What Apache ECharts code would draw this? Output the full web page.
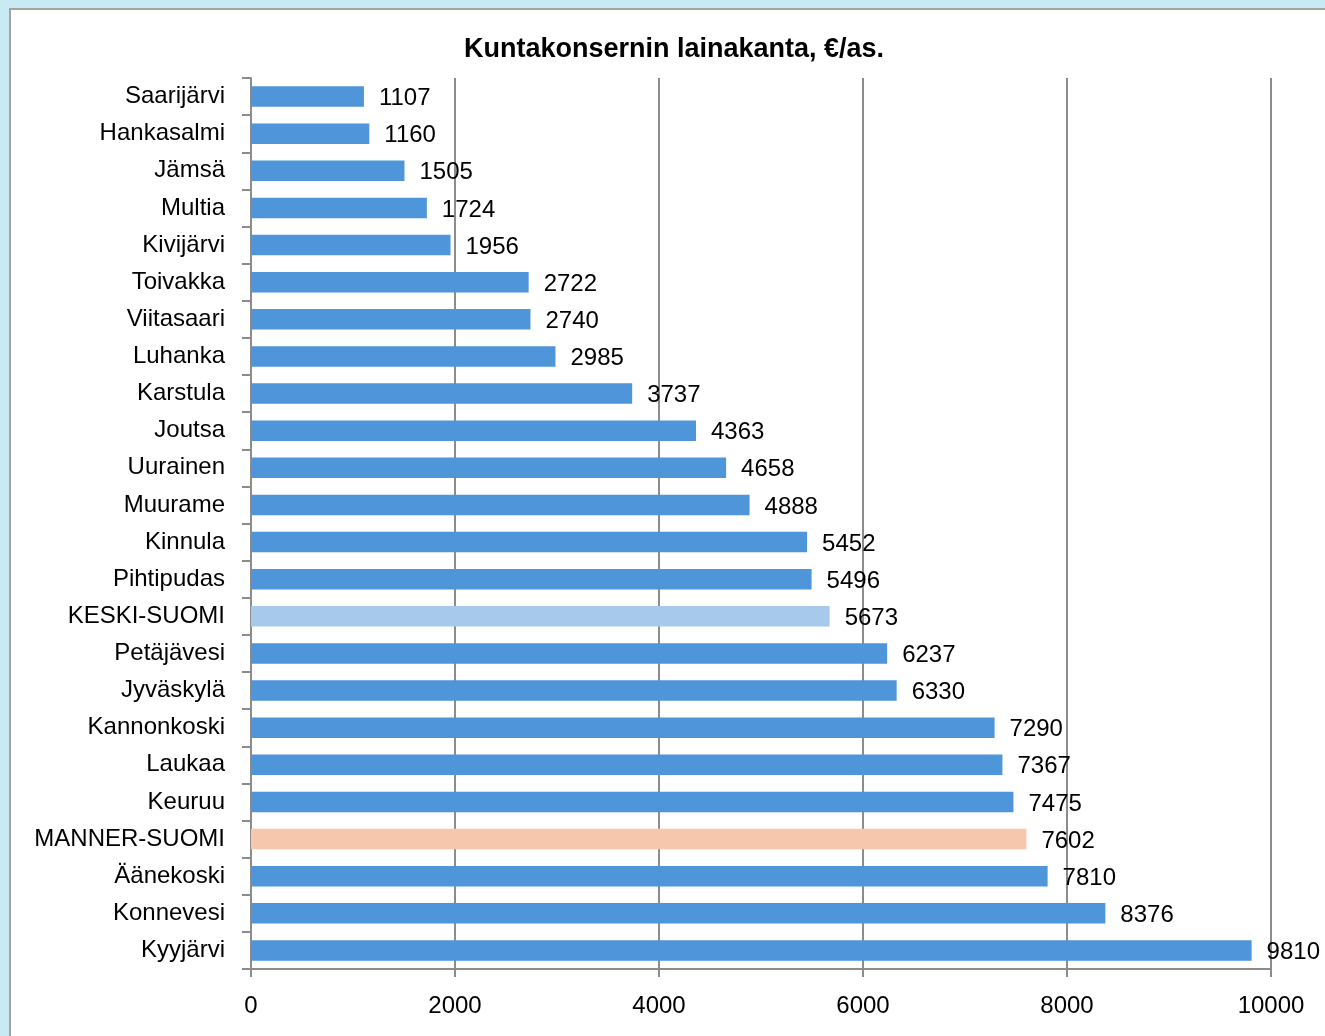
<!DOCTYPE html>
<html>
<head>
<meta charset="utf-8">
<script src="https://cdn.jsdelivr.net/npm/echarts@6/dist/echarts.min.js"></script>
<style>
  html, body { margin: 0; padding: 0; background: #c9e9f3; }
  #chart { width: 1325px; height: 1036px; }
</style>
</head>
<body>
<div id="chart"></div>
<script>
// Municipal group loan stock per inhabitant (€/as.)
const categories = [
  'Saarijärvi', 'Hankasalmi', 'Jämsä', 'Multia', 'Kivijärvi', 'Toivakka',
  'Viitasaari', 'Luhanka', 'Karstula', 'Joutsa', 'Uurainen', 'Muurame',
  'Kinnula', 'Pihtipudas', 'KESKI-SUOMI', 'Petäjävesi', 'Jyväskylä',
  'Kannonkoski', 'Laukaa', 'Keuruu', 'MANNER-SUOMI', 'Äänekoski',
  'Konnevesi', 'Kyyjärvi'
];
const values = [
  1107, 1160, 1505, 1724, 1956, 2722, 2740, 2985, 3737, 4363, 4658, 4888,
  5452, 5496, 5673, 6237, 6330, 7290, 7367, 7475, 7602, 7810, 8376, 9810
];
const xTicks = [0, 2000, 4000, 6000, 8000, 10000];

const baseColor = '#4f95d9';
const highlight = { 'KESKI-SUOMI': '#a7caec', 'MANNER-SUOMI': '#f6c7ad' };

const font = 'Liberation Sans, Arial, sans-serif';
const chart = echarts.init(document.getElementById('chart'));

chart.setOption({
  animation: false,
  graphic: [{
    type: 'rect',
    z: -10,
    shape: { x: 10, y: 9, width: 1400, height: 1100 },
    style: { fill: '#ffffff', stroke: '#a3a3a3', lineWidth: 2 }
  }],
  title: {
    text: 'Kuntakonsernin lainakanta, €/as.',
    left: 669,
    textAlign: 'center',
    top: 31,
    textStyle: { fontFamily: font, fontWeight: 'bold', fontSize: 27, color: '#000' }
  },
  grid: { left: 251, right: 54, top: 78, bottom: 67, containLabel: false },
  xAxis: {
    type: 'value',
    min: xTicks[0],
    max: xTicks[xTicks.length - 1],
    interval: 2000,
    axisLine: { show: true, lineStyle: { color: '#8c8c8c', width: 2 } },
    axisTick: { show: true, length: 8, lineStyle: { color: '#8c8c8c', width: 2 } },
    axisLabel: {
      fontFamily: font, fontSize: 24, color: '#000', margin: 25,
      formatter: v => String(v)
    },
    splitLine: { show: true, lineStyle: { color: '#8c8c8c', width: 2 } }
  },
  yAxis: {
    type: 'category',
    data: categories,
    inverse: true,
    axisLine: { show: true, lineStyle: { color: '#8c8c8c', width: 2 } },
    axisTick: { show: true, length: 9, lineStyle: { color: '#8c8c8c', width: 2 } },
    axisLabel: { fontFamily: font, fontSize: 24, color: '#000', margin: 26 }
  },
  series: [{
    type: 'bar',
    data: values.map((v, i) => ({
      value: v,
      itemStyle: { color: highlight[categories[i]] || baseColor }
    })),
    barWidth: '55%',
    label: {
      show: true,
      position: 'right',
      distance: 15,
      fontFamily: font,
      fontSize: 24,
      color: '#000',
      offset: [0, 2]
    }
  }]
});
</script>
</body>
</html>
